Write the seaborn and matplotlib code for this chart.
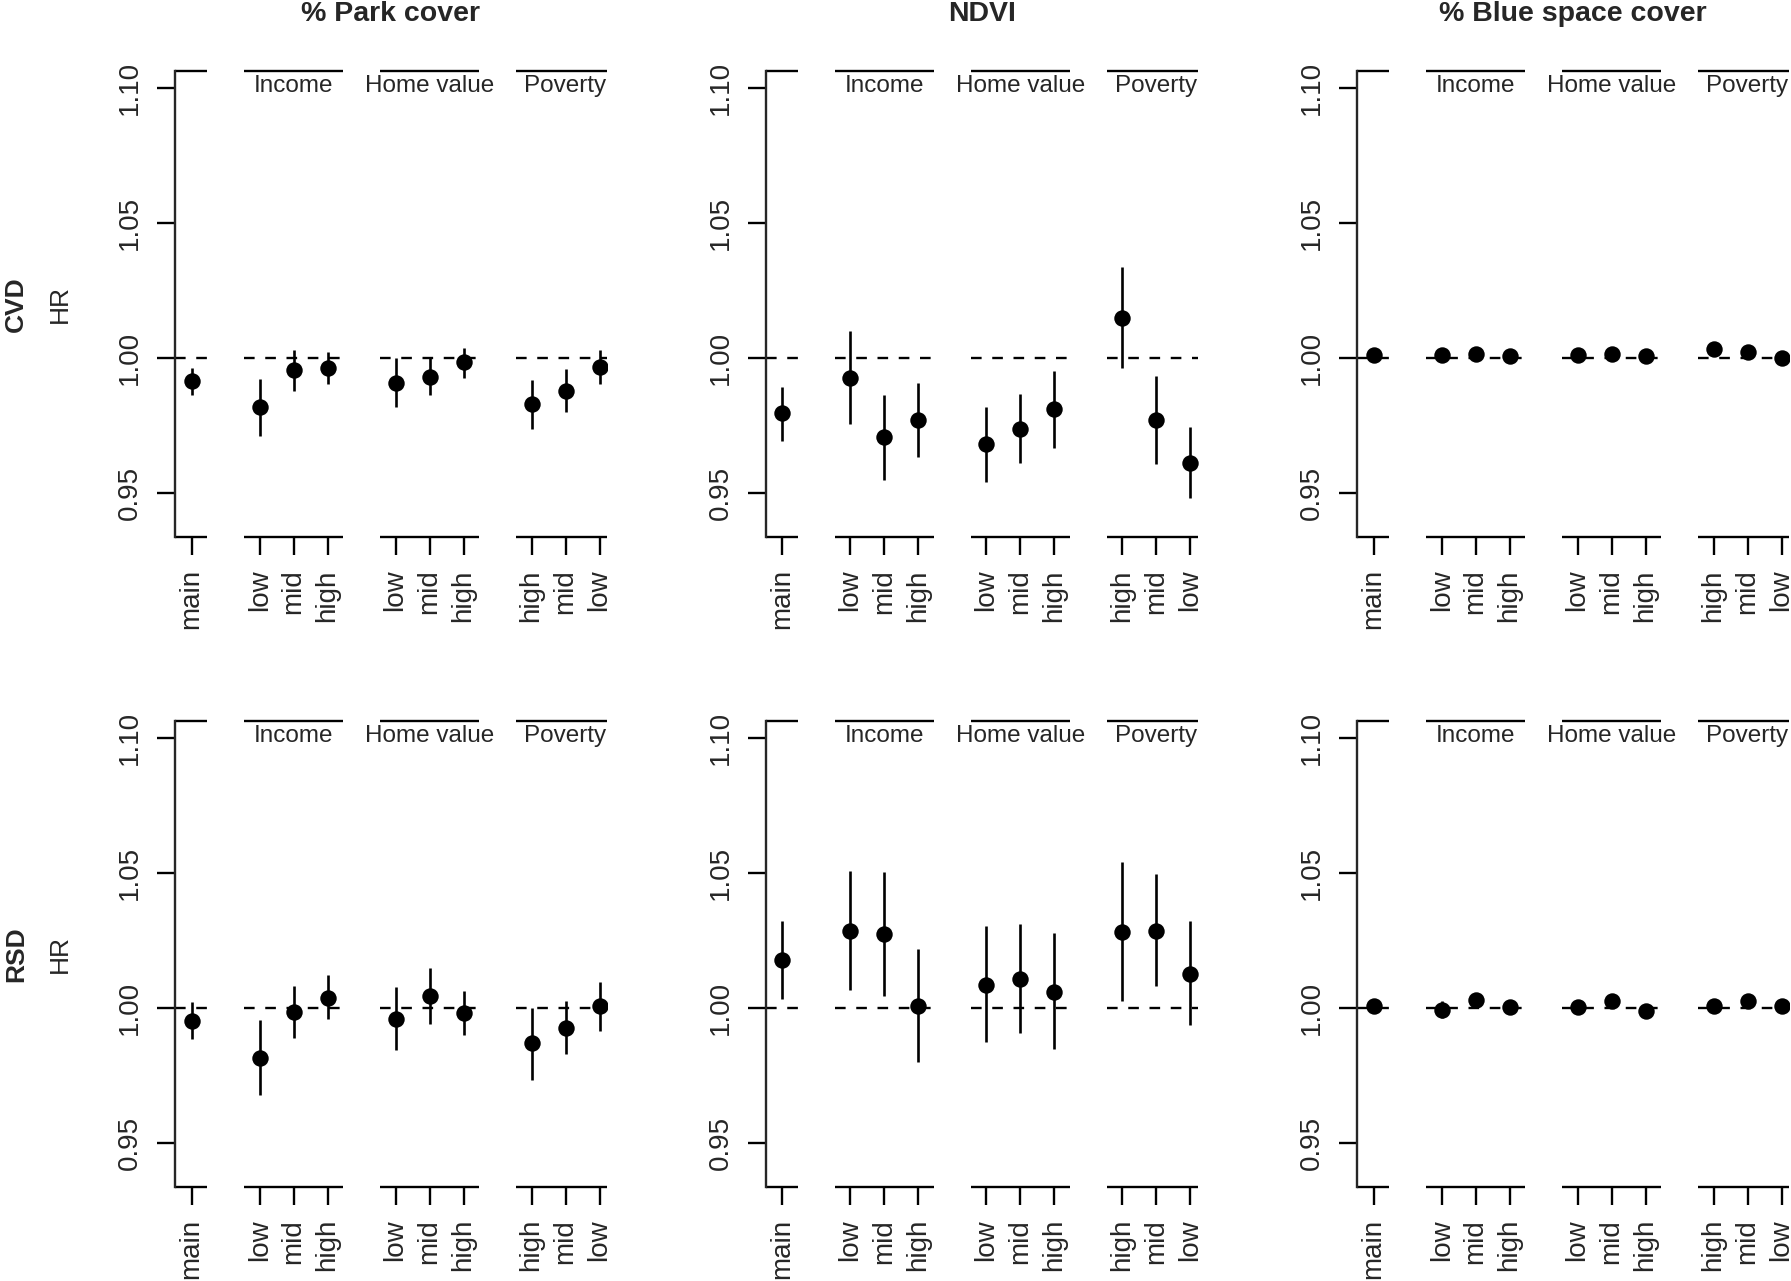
'''
Hazard ratios of CVD and RSD mortality by greenspace / bluespace exposure,
main estimate plus effect modification by income, home value and poverty
'''

import numpy as np
import pandas as pd
import matplotlib
matplotlib.use("Agg")
import matplotlib.pyplot as plt
import seaborn as sns

sns.set_style("ticks")
plt.rcParams['font.family'] = ['Liberation Sans', 'DejaVu Sans']

# x layout: main estimate, then three effect-modifier groups
positions = [1, 3, 4, 5, 7, 8, 9, 11, 12, 13]
tick_labels = ['main', 'low', 'mid', 'high', 'low', 'mid', 'high', 'high', 'mid', 'low']
group_labels = ['Income', 'Home value', 'Poverty']
group_spans = [(1, 1), (3, 5), (7, 9), (11, 13)]

exposures = ['% Park cover', 'NDVI', '% Blue space cover']
outcomes = ['CVD', 'RSD']

# CVD - % park cover
cvd_park_hr = [0.9914, 0.9818, 0.9955, 0.9964, 0.9909, 0.9930, 0.9985, 0.9830, 0.9880, 0.9967]
cvd_park_lo = [0.9864, 0.9712, 0.9880, 0.9903, 0.9818, 0.9864, 0.9926, 0.9739, 0.9800, 0.9903]
cvd_park_hi = [0.9962, 0.9921, 1.0030, 1.0024, 1.0000, 1.0000, 1.0039, 0.9918, 0.9959, 1.0030]

# CVD - NDVI
cvd_ndvi_hr = [0.9795, 0.9927, 0.9706, 0.9770, 0.9682, 0.9739, 0.9811, 1.0148, 0.9770, 0.9612]
cvd_ndvi_lo = [0.9694, 0.9755, 0.9548, 0.9633, 0.9542, 0.9611, 0.9668, 0.9962, 0.9608, 0.9482]
cvd_ndvi_hi = [0.9894, 1.0100, 0.9864, 0.9906, 0.9818, 0.9868, 0.9952, 1.0336, 0.9932, 0.9744]

# CVD - % blue space cover
cvd_blue_hr = [1.0012, 1.0012, 1.0015, 1.0009, 1.0012, 1.0015, 1.0008, 1.0032, 1.0024, 1.0000]
cvd_blue_lo = [1.0002, 1.0002, 1.0005, 0.9999, 1.0002, 1.0005, 0.9998, 1.0020, 1.0013, 0.9990]
cvd_blue_hi = [1.0022, 1.0022, 1.0025, 1.0019, 1.0022, 1.0025, 1.0018, 1.0044, 1.0035, 1.0010]

# RSD - % park cover
rsd_park_hr = [0.9952, 0.9814, 0.9985, 1.0038, 0.9958, 1.0045, 0.9982, 0.9870, 0.9927, 1.0006]
rsd_park_lo = [0.9885, 0.9677, 0.9889, 0.9958, 0.9844, 0.9942, 0.9900, 0.9733, 0.9829, 0.9915]
rsd_park_hi = [1.0021, 0.9955, 1.0083, 1.0121, 1.0076, 1.0147, 1.0064, 1.0000, 1.0026, 1.0097]

# RSD - NDVI
rsd_ndvi_hr = [1.0177, 1.0286, 1.0273, 1.0008, 1.0086, 1.0109, 1.0059, 1.0282, 1.0286, 1.0124]
rsd_ndvi_lo = [1.0033, 1.0068, 1.0045, 0.9798, 0.9874, 0.9908, 0.9847, 1.0024, 1.0082, 0.9935]
rsd_ndvi_hi = [1.0321, 1.0509, 1.0503, 1.0218, 1.0302, 1.0311, 1.0276, 1.0541, 1.0497, 1.0321]

# RSD - % blue space cover
rsd_blue_hr = [1.0008, 0.9992, 1.0030, 1.0002, 1.0003, 1.0024, 0.9988, 1.0006, 1.0026, 1.0006]
rsd_blue_lo = [0.9996, 0.9962, 1.0016, 0.9990, 0.9985, 1.0012, 0.9975, 0.9980, 1.0014, 0.9994]
rsd_blue_hi = [1.0020, 1.0026, 1.0044, 1.0014, 1.0021, 1.0036, 1.0001, 1.0032, 1.0038, 1.0018]

results = {
    ('CVD', '% Park cover'): (cvd_park_hr, cvd_park_lo, cvd_park_hi),
    ('CVD', 'NDVI'): (cvd_ndvi_hr, cvd_ndvi_lo, cvd_ndvi_hi),
    ('CVD', '% Blue space cover'): (cvd_blue_hr, cvd_blue_lo, cvd_blue_hi),
    ('RSD', '% Park cover'): (rsd_park_hr, rsd_park_lo, rsd_park_hi),
    ('RSD', 'NDVI'): (rsd_ndvi_hr, rsd_ndvi_lo, rsd_ndvi_hi),
    ('RSD', '% Blue space cover'): (rsd_blue_hr, rsd_blue_lo, rsd_blue_hi),
}

# Figure layout (pixel based, 1791 x 1281)
W, H = 1791, 1281
fig = plt.figure(figsize=(W / 100, H / 100), dpi=100)
lefts = [175, 765.7, 1357]
tops = [71, 720.8]
ax_w, ax_h = 432, 466.3
xlim = (0.51, 13.22)
ylim = (0.9336, 1.1064)
lw_axis = 1.7

for r, outcome in enumerate(outcomes):
    for c, exposure in enumerate(exposures):
        ax = fig.add_axes([lefts[c] / W, 1 - (tops[r] + ax_h) / H, ax_w / W, ax_h / H])
        hr, lo, hi = results[(outcome, exposure)]
        df = pd.DataFrame({'pos': positions, 'hr': hr, 'lo': lo, 'hi': hi})

        # reference line and broken box, one piece per group
        for i, (a, b) in enumerate(group_spans):
            x0 = xlim[0] if i == 0 else a - 0.45
            x1 = min(b + 0.45, xlim[1])
            ax.plot([x0, x1], [1, 1], color='black', lw=1.7, ls=(0, (4.5, 4.5)), zorder=1)
            for yy in (0, 1):
                ax.plot([x0, x1], [yy, yy], color='black', lw=lw_axis,
                        transform=ax.get_xaxis_transform(), clip_on=False,
                        solid_capstyle='butt')
            if i > 0:
                ax.text((a + b) / 2, 1 - 4 / ax_h, group_labels[i - 1],
                        transform=ax.get_xaxis_transform(), ha='center', va='top',
                        fontsize=17.5)

        # confidence intervals and point estimates
        ax.vlines(df['pos'], df['lo'], df['hi'], color='black', lw=1.9, zorder=2)
        sns.scatterplot(data=df, x='pos', y='hr', ax=ax, color='black', s=140,
                        linewidth=0, zorder=3, legend=False)

        ax.set_xlim(*xlim)
        ax.set_ylim(*ylim)
        for side in ['top', 'right', 'bottom']:
            ax.spines[side].set_visible(False)
        ax.spines['left'].set_linewidth(lw_axis)

        ax.set_xticks(positions, tick_labels, rotation=90)
        ax.set_yticks([0.95, 1.00, 1.05, 1.10], ['0.95', '1.00', '1.05', '1.10'],
                      rotation=90, va='center')
        ax.tick_params(axis='both', direction='out', length=13, width=lw_axis,
                       pad=10, labelsize=20, color='black')
        ax.set_xlabel('')
        ax.set_ylabel('')

        if r == 0:
            ax.set_title(exposure, fontsize=20.5, fontweight='bold', pad=36)

    yc = 1 - (tops[r] + ax_h / 2) / H
    fig.text(16 / W, yc, outcome, rotation=90, fontsize=19, fontweight='bold',
             ha='center', va='center')
    fig.text(60 / W, yc, 'HR', rotation=90, fontsize=19, ha='center', va='center')

fig.savefig('out.png', dpi=100)
